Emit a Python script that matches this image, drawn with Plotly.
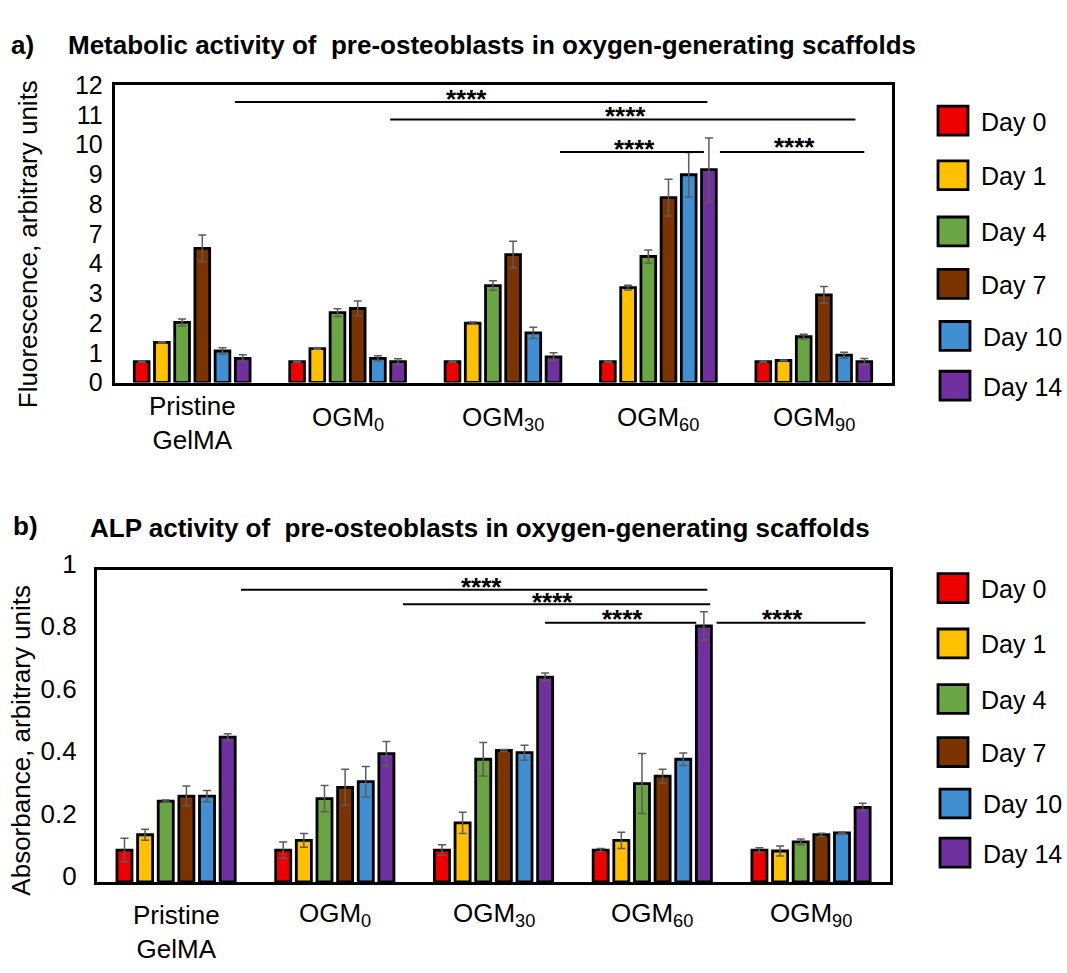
import plotly.graph_objects as go

W, H = 1067, 973
FONT = "Liberation Sans, Arial, Helvetica, sans-serif"

# ---------------- data ----------------
categories = ["Pristine GelMA", "OGM0", "OGM30", "OGM60", "OGM90"]
category_labels = ["Pristine<br>GelMA", "OGM<sub>0</sub>", "OGM<sub>30</sub>",
                   "OGM<sub>60</sub>", "OGM<sub>90</sub>"]
days = ["Day 0", "Day 1", "Day 4", "Day 7", "Day 10", "Day 14"]
colors = ["#EE0000", "#FFC000", "#6AA443", "#7B3300", "#3F8FD2", "#7030A0"]

# Panel a) heights on the plotted scale (evenly spaced tick positions 0..10,
# labelled 0,1,2,3,4,7,8,...,12 as in the original figure)
a_tick_pos = [0, 1, 2, 3, 4, 5, 6, 7, 8, 9, 10]
a_tick_labels = ["0", "1", "2", "3", "4", "7", "8", "9", "10", "11", "12"]
metab_d0 = [0.70, 0.70, 0.70, 0.70, 0.70]
metab_d1 = [1.35, 1.14, 2.00, 3.19, 0.74]
metab_d4 = [2.02, 2.35, 3.26, 4.24, 1.54]
metab_d7 = [4.51, 2.49, 4.30, 6.22, 2.95]
metab_d10 = [1.06, 0.81, 1.67, 6.99, 0.92]
metab_d14 = [0.81, 0.70, 0.86, 7.16, 0.70]
metab_err_d0 = [0.02, 0.02, 0.02, 0.02, 0.02]
metab_err_d1 = [0.02, 0.02, 0.04, 0.08, 0.02]
metab_err_d4 = [0.12, 0.13, 0.16, 0.22, 0.08]
metab_err_d7 = [0.45, 0.25, 0.45, 0.62, 0.28]
metab_err_d10 = [0.11, 0.09, 0.19, 0.75, 0.10]
metab_err_d14 = [0.12, 0.10, 0.14, 1.07, 0.11]

# Panel b) ALP absorbance
alp_d0 = [0.102, 0.102, 0.102, 0.102, 0.102]
alp_d1 = [0.151, 0.133, 0.189, 0.133, 0.099]
alp_d4 = [0.259, 0.267, 0.393, 0.315, 0.128]
alp_d7 = [0.275, 0.303, 0.421, 0.339, 0.151]
alp_d10 = [0.275, 0.321, 0.414, 0.393, 0.157]
alp_d14 = [0.464, 0.411, 0.656, 0.820, 0.239]
alp_err_d0 = [0.038, 0.026, 0.017, 0.005, 0.007]
alp_err_d1 = [0.018, 0.022, 0.034, 0.026, 0.016]
alp_err_d4 = [0.003, 0.042, 0.054, 0.096, 0.009]
alp_err_d7 = [0.032, 0.058, 0.003, 0.022, 0.005]
alp_err_d10 = [0.018, 0.049, 0.024, 0.020, 0.003]
alp_err_d14 = [0.011, 0.039, 0.013, 0.046, 0.013]

# significance brackets (x in category index units, y in axis units)
sig_a_x0 = [0.275, 1.274, 2.367, 3.396]
sig_a_x1 = [3.315, 4.268, 3.293, 4.325]
sig_a_y = [9.44, 8.85, 7.76, 7.76]
sig_a_star_x = [1.766, 2.788, 2.846, 3.877]
sig_a_star_y = [9.67, 9.10, 7.98, 8.06]

sig_b_x0 = [0.409, 1.429, 2.325, 3.405]
sig_b_x1 = [3.347, 3.365, 3.277, 4.343]
sig_b_y = [0.936, 0.890, 0.830, 0.830]
sig_b_star_x = [1.927, 2.369, 2.812, 3.821]
sig_b_star_y = [0.957, 0.910, 0.854, 0.856]

metab = [metab_d0, metab_d1, metab_d4, metab_d7, metab_d10, metab_d14]
metab_err = [metab_err_d0, metab_err_d1, metab_err_d4, metab_err_d7, metab_err_d10, metab_err_d14]
alp = [alp_d0, alp_d1, alp_d4, alp_d7, alp_d10, alp_d14]
alp_err = [alp_err_d0, alp_err_d1, alp_err_d4, alp_err_d7, alp_err_d10, alp_err_d14]


def px(x):
    return x / W


def py(y):
    return 1 - y / H


fig = go.Figure()
for i, day in enumerate(days):
    for vals, errs, xa, ya in [(metab[i], metab_err[i], "x", "y"), (alp[i], alp_err[i], "x2", "y2")]:
        fig.add_bar(
            x=categories, y=vals, name=day, showlegend=False,
            xaxis=xa, yaxis=ya,
            marker=dict(color=colors[i], line=dict(color="black", width=2.8)),
            error_y=dict(type="data", array=errs, color="#5c5c5c", thickness=1.5, width=4),
        )

axis_common = dict(showline=True, linecolor="black", linewidth=2.5, mirror=True,
                   showgrid=False, zeroline=False, ticks="")

fig.update_layout(
    width=W, height=H,
    margin=dict(l=0, r=0, t=0, b=0),
    paper_bgcolor="white", plot_bgcolor="white",
    font=dict(family=FONT, color="black"),
    barmode="group", bargap=0.22, bargroupgap=0.27,
    xaxis=dict(domain=[px(114.5), px(891.5)], anchor="y", type="category",
               range=[-0.5, 4.5], showticklabels=False, **axis_common),
    yaxis=dict(domain=[py(375), py(66.7)], anchor="x", range=[0, 10],
               tickvals=a_tick_pos, ticktext=a_tick_labels,
               tickfont=dict(size=25, family=FONT, color="black"), ticklabelstandoff=4,
               **axis_common),
    xaxis2=dict(domain=[px(96.7), px(890.4)], anchor="y2", type="category",
                range=[-0.5, 4.5], showticklabels=False, **axis_common),
    yaxis2=dict(domain=[py(893), py(569.3)], anchor="x2", range=[0, 1],
                tickvals=[0, 0.2, 0.4, 0.6, 0.8, 1], ticktext=["0", "0.2", "0.4", "0.6", "0.8", "1"],
                tickfont=dict(size=26, family=FONT, color="black"), ticklabelstandoff=12,
                ticklabelshift=-6, **axis_common),
)

shapes = []
annotations = []

# significance lines and stars
for x0, x1, y in zip(sig_a_x0, sig_a_x1, sig_a_y):
    shapes.append(dict(type="line", xref="x", yref="y", x0=x0, x1=x1, y0=y, y1=y,
                       line=dict(color="black", width=2)))
for x, y in zip(sig_a_star_x, sig_a_star_y):
    annotations.append(dict(text="<b>****</b>", xref="x", yref="y", x=x, y=y, showarrow=False,
                            xanchor="center", yanchor="middle", yshift=-4,
                            font=dict(size=26, family=FONT, color="black")))
for x0, x1, y in zip(sig_b_x0, sig_b_x1, sig_b_y):
    shapes.append(dict(type="line", xref="x2", yref="y2", x0=x0, x1=x1, y0=y, y1=y,
                       line=dict(color="black", width=2)))
for x, y in zip(sig_b_star_x, sig_b_star_y):
    annotations.append(dict(text="<b>****</b>", xref="x2", yref="y2", x=x, y=y, showarrow=False,
                            xanchor="center", yanchor="middle", yshift=-4,
                            font=dict(size=26, family=FONT, color="black")))

# category labels
label_y_a = [417, 412, 412, 412, 412]
label_y_b = [945, 927, 927, 927, 927]
for k, lab in enumerate(category_labels):
    annotations.append(dict(text=lab, xref="x", yref="paper", x=k, y=py(label_y_a[k]),
                            showarrow=False, xanchor="center", yanchor="middle",
                            font=dict(size=26, family=FONT, color="black")))
    annotations.append(dict(text=lab, xref="x2", yref="paper", x=k, y=py(label_y_b[k]),
                            showarrow=False, xanchor="center", yanchor="middle",
                            font=dict(size=26, family=FONT, color="black")))

# legends (drawn manually to mimic large swatches)
leg_a_y = [103.3, 160, 218.3, 272.7, 326.7, 378.3]
leg_b_y = [588.3, 645.7, 703.3, 758.3, 811.7, 862.7]
for rows in (leg_a_y, leg_b_y):
    for i, cy in enumerate(rows):
        sx0 = 938 if i < 4 else 940
        shapes.append(dict(type="rect", xref="paper", yref="paper",
                           x0=px(sx0), x1=px(sx0 + 30), y0=py(cy + 15), y1=py(cy - 15),
                           fillcolor=colors[i], line=dict(color="black", width=2.8)))
        annotations.append(dict(text=days[i], xref="paper", yref="paper",
                                x=px(sx0 + 41), y=py(cy + 1), showarrow=False,
                                xanchor="left", yanchor="middle",
                                font=dict(size=25, family=FONT, color="black")))

# titles
annotations += [
    dict(text="<b>a)</b>", xref="paper", yref="paper", x=px(9), y=py(25), showarrow=False,
         xanchor="left", yanchor="middle", font=dict(size=26, family=FONT, color="black")),
    dict(text="<b>Metabolic activity of\u00a0 pre-osteoblasts in oxygen-generating scaffolds</b>",
         xref="paper", yref="paper", x=px(66), y=py(25), showarrow=False,
         xanchor="left", yanchor="middle", font=dict(size=26, family=FONT, color="black")),
    dict(text="<b>b)</b>", xref="paper", yref="paper", x=px(11), y=py(524), showarrow=False,
         xanchor="left", yanchor="middle", font=dict(size=26, family=FONT, color="black")),
    dict(text="<b>ALP activity of\u00a0 pre-osteoblasts in oxygen-generating scaffolds</b>",
         xref="paper", yref="paper", x=px(88), y=py(526), showarrow=False,
         xanchor="left", yanchor="middle", font=dict(size=26, family=FONT, color="black")),
    dict(text="Fluorescence, arbitrary units", xref="paper", yref="paper",
         x=px(27.5), y=py(232), textangle=-90, showarrow=False,
         xanchor="center", yanchor="middle", font=dict(size=26, family=FONT, color="black")),
    dict(text="Absorbance, arbitrary units", xref="paper", yref="paper",
         x=px(21.5), y=py(746), textangle=-90, showarrow=False,
         xanchor="center", yanchor="middle", font=dict(size=26, family=FONT, color="black")),
]

fig.update_layout(shapes=shapes, annotations=annotations)
fig.write_html("out.html")
